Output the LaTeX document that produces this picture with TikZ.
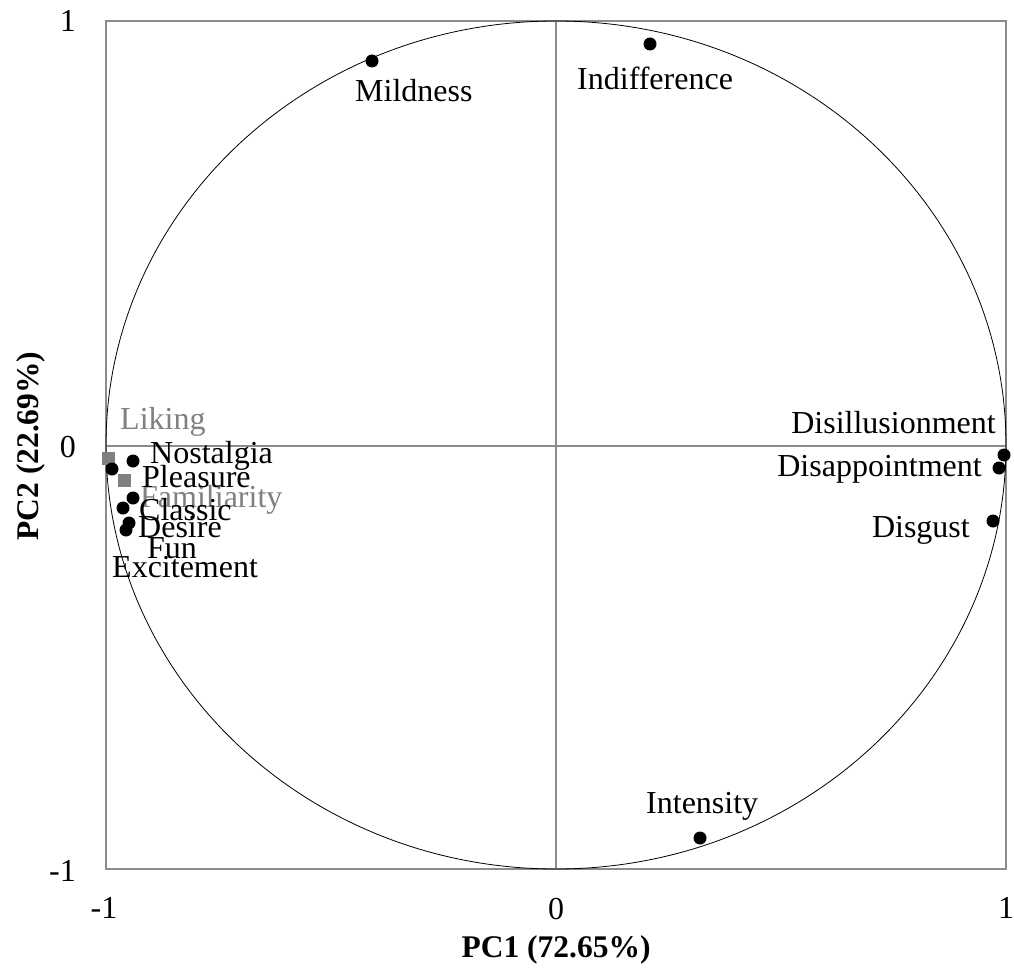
\documentclass[tikz,border=0pt]{standalone}
\usepackage{fontspec}
\setmainfont{Liberation Serif}
\definecolor{axgray}{RGB}{140,140,140}
\definecolor{sqgray}{RGB}{128,128,128}
\begin{document}
\begin{tikzpicture}[x=1pt,y=-1pt,
  gridline/.style={draw=axgray, line width=1.6pt},
  loading/.style={circle, fill=black, inner sep=0pt, minimum size=13pt},
  suppl/.style={rectangle, fill=sqgray, inner sep=0pt, minimum size=13pt},
  lbl/.style={inner sep=0pt, font=\fontsize{32}{38}\selectfont},
  supl/.style={lbl, text=sqgray},
  ttl/.style={inner sep=0pt, font=\fontsize{31.5}{38}\selectfont\bfseries}]
\useasboundingbox (0,0) rectangle (1014,971);

% plot area frame and zero axes
\coordinate (tl) at (106,21);
\coordinate (br) at (1006,869);
\draw[gridline] (tl) rectangle (br);
\coordinate (xl) at (106,446);
\coordinate (xr) at (1006,446);
\coordinate (yt) at (556,21);
\coordinate (yb) at (556,869);
\draw[gridline] (xl) -- (xr);
\draw[gridline] (yt) -- (yb);

% correlation circle
\coordinate (o) at (556,445);
\draw[black, line width=0.8pt] (o) ellipse [x radius=450, y radius=424];

% tick labels
\node[lbl, anchor=east] (ty1) at (76,21) {1};
\node[lbl, anchor=east] (ty0) at (76,447) {0};
\node[lbl, anchor=east] (tym) at (76,871) {-1};
\node[lbl] (txm) at (104,908) {-1};
\node[lbl] (tx0) at (556,909) {0};
\node[lbl] (tx1) at (1006,908) {1};

% axis titles
\node[ttl, anchor=base] (pc1) at (556,957) {PC1 (72.65\%)};
\node[ttl, anchor=base, rotate=90] (pc2) at (38,446) {PC2 (22.69\%)};

% supplementary variables
\node[suppl] (sLiking) at (108,458) {};
\node[suppl] (sFamiliarity) at (124,480) {};

% active variables
\node[loading] (pMildness) at (372,61) {};
\node[loading] (pIndifference) at (650,44) {};
\node[loading] (pIntensity) at (700,838) {};
\node[loading] (pDisillusionment) at (1004,455) {};
\node[loading] (pDisappointment) at (999,468) {};
\node[loading] (pDisgust) at (993,521) {};
\node[loading] (pPleasure) at (112,469) {};
\node[loading] (pNostalgia) at (133,461) {};
\node[loading] (pClassic) at (133,498) {};
\node[loading] (pDesire) at (123,508) {};
\node[loading] (pFun) at (129,523) {};
\node[loading] (pExcitement) at (126,530) {};

% variable labels
\node[lbl, anchor=base west] (lMildness) at (355,102) {Mildness};
\node[lbl, anchor=base west] (lIndifference) at (577,90) {Indifference};
\node[lbl, anchor=base west] (lIntensity) at (646,813) {Intensity};
\node[lbl, anchor=base east] (lDisillusionment) at (996,433) {Disillusionment};
\node[lbl, anchor=base east] (lDisappointment) at (982,476) {Disappointment};
\node[lbl, anchor=base east] (lDisgust) at (970,537) {Disgust};
\node[supl, anchor=base west] (lLiking) at (120,429) {Liking};
\node[supl, anchor=base west] (lFamiliarity) at (140,507) {Familiarity};
\node[lbl, anchor=base west] (lNostalgia) at (150,463) {Nostalgia};
\node[lbl, anchor=base west] (lPleasure) at (142,487) {Pleasure};
\node[lbl, anchor=base west] (lClassic) at (139,520) {Classic};
\node[lbl, anchor=base west] (lDesire) at (138,537) {Desire};
\node[lbl, anchor=base west] (lFun) at (147,558) {Fun};
\node[lbl, anchor=base west] (lExcitement) at (112,577) {Excitement};
\end{tikzpicture}
\end{document}
